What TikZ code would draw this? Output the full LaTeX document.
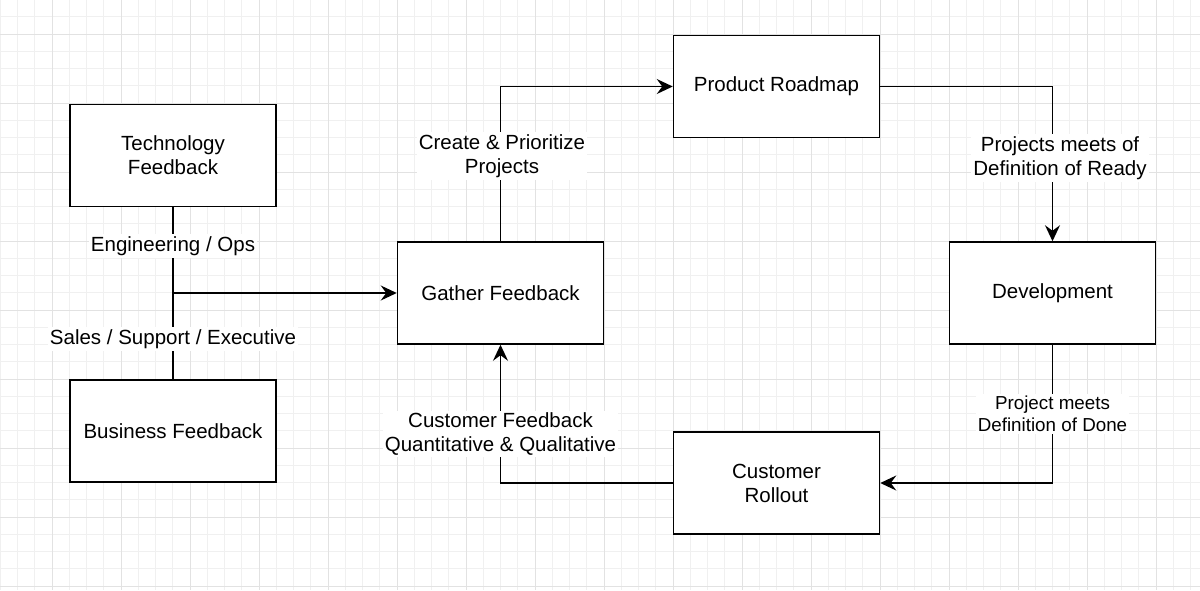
\documentclass[tikz,border=0pt]{standalone}
\usepackage{fontspec}
\setmainfont{Liberation Sans}
\usetikzlibrary{arrows.meta}

\definecolor{gridminor}{HTML}{F0F0F0}
\definecolor{gridmajor}{HTML}{E2E2E2}

\tikzset{
    stagebox/.style={draw, line width=1.5pt, fill=white, minimum width=206pt, minimum height=102pt,
        inner sep=2pt, align=center, font=\fontsize{20.5}{24}\selectfont},
    flowlabel/.style={fill=white, inner sep=2pt, align=center, font=\fontsize{20.5}{24}\selectfont},
    smalllabel/.style={flowlabel, font=\fontsize{18.8}{22}\selectfont},
    flowline/.style={line width=1.5pt},
    flowarrow/.style={flowline, -{Stealth[length=16pt, width=15pt, inset=5.5pt]}},
}

\begin{document}
\begin{tikzpicture}[x=1pt, y=-1pt]
        \useasboundingbox (0, 0) rectangle (1200, 590);
        \fill[white] (0, 0) rectangle (1200, 590);

        % grid
        \foreach \k in {0, ..., 70} {
            \draw[gridminor, line width=1pt] (0.25 + 17.25*\k, 0) -- (0.25 + 17.25*\k, 590);
        }
        \foreach \k in {0, ..., 34} {
            \draw[gridminor, line width=1pt] (0, -0.5 + 17.25*\k) -- (1200, -0.5 + 17.25*\k);
        }
        \foreach \k in {0, ..., 17} {
            \draw[gridmajor, line width=1pt] (52 + 69*\k, 0) -- (52 + 69*\k, 590);
        }
        \foreach \k in {0, ..., 8} {
            \draw[gridmajor, line width=1pt] (0, 34 + 69*\k) -- (1200, 34 + 69*\k);
        }

        % stages
        \node[stagebox] (tech) at (173, 155.5) {Technology\\Feedback};
        \node[stagebox] (business) at (173, 431) {Business Feedback};
        \node[stagebox] (gather) at (500.5, 293) {Gather Feedback};
        \node[stagebox] (roadmap) at (776.5, 86.5) {Product Roadmap};
        \node[stagebox] (dev) at (1052.5, 293) {Development};
        \node[stagebox] (rollout) at (776.5, 483) {Customer\\Rollout};

        % connectors
        \coordinate (merge) at (tech.south |- gather.west);
        \draw[flowline] (tech) -- (business);
        \draw[flowarrow] (merge) -- (gather);
        \draw[flowarrow] (gather) |- (roadmap);
        \draw[flowarrow] (roadmap) -| (dev);
        \draw[flowarrow] (dev) |- (rollout);
        \draw[flowarrow] (rollout) -| (gather);

        % labels
        \node[flowlabel] (engops) at (173, 246) {Engineering / Ops};
        \node[flowlabel] (sales) at (173, 339) {Sales / Support / Executive};
        \node[flowlabel] (prioritize) at (502, 156) {Create \& Prioritize\\Projects};
        \node[flowlabel] (ready) at (1060, 158) {Projects meets of\\Definition of Ready};
        \node[smalllabel] (done) at (1052.5, 414) {Project meets\\Definition of Done};
        \node[flowlabel] (custfb) at (500.5, 434) {Customer Feedback\\Quantitative \& Qualitative};
\end{tikzpicture}
\end{document}
